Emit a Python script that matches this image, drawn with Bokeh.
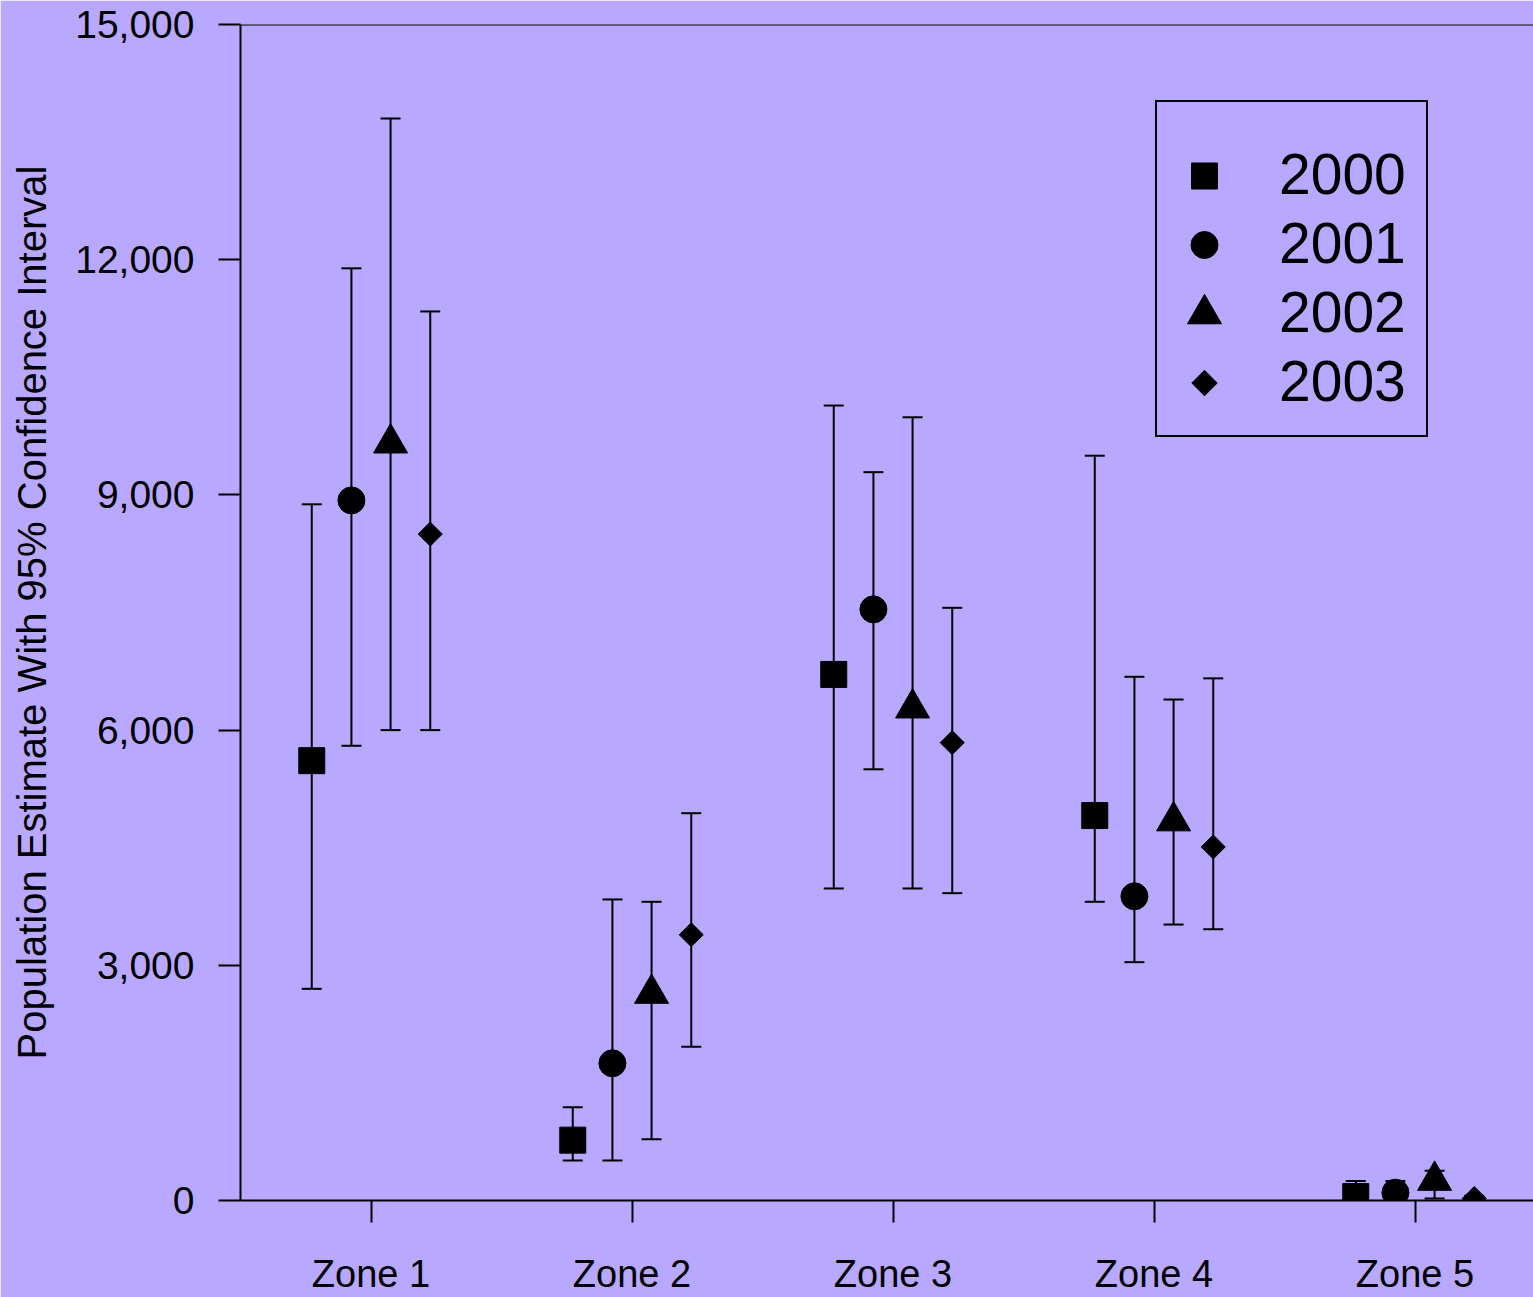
import math
from bokeh.plotting import figure
from bokeh.models import (Range1d, FixedTicker, NumeralTickFormatter, Whisker, TeeHead,
                          ColumnDataSource, Legend, LegendItem, Span)
from bokeh.embed import file_html
from bokeh.resources import INLINE

# ---- data ----
zones = ["Zone 1", "Zone 2", "Zone 3", "Zone 4", "Zone 5"]
years = ["2000", "2001", "2002", "2003"]

est_2000 = [5610, 770, 6710, 4910, 50]
lo_2000 = [2700, 510, 3980, 3810, 0]
hi_2000 = [8880, 1190, 10140, 9500, 250]

est_2001 = [8930, 1750, 7540, 3880, 100]
lo_2001 = [5800, 510, 5500, 3040, 0]
hi_2001 = [11890, 3840, 9290, 6680, 250]

est_2002 = [9660, 2640, 6280, 4840, 255]
lo_2002 = [6000, 780, 3980, 3520, 25]
hi_2002 = [13800, 3810, 9990, 6390, 380]

est_2003 = [8500, 3390, 5840, 4510, 25]
lo_2003 = [6000, 1960, 3920, 3460, 0]
hi_2003 = [11340, 4940, 7560, 6660, 60]

y_ticks = [0, 3000, 6000, 9000, 12000, 15000]

# ---- styling / layout ----
BG = "#B8A8FF"
FONT = "Liberation Sans"
W, H = 1533, 1297
LEFT, TOP, BOTTOM = 240, 24, 97
FRAME_W = W - LEFT
FRAME_H = H - TOP - BOTTOM
zone_pos = [1, 2, 3, 4, 5]
zone_px = 261.0
offsets = [-0.227, -0.075, 0.075, 0.227]
markers = ["square", "circle", "triangle", "square"]
msizes = [26, 27, 34, 17]
key_sizes = [26, 27, 34, 18]
angles = [0, 0, 0, math.pi / 4]

p = figure(width=W, height=H,
           x_range=Range1d(0.5, 0.5 + FRAME_W / zone_px), y_range=Range1d(0, 15000),
           output_backend="svg", toolbar_location=None,
           min_border_left=LEFT, min_border_top=TOP, min_border_bottom=BOTTOM, min_border_right=0,
           background_fill_color=BG, border_fill_color=BG, outline_line_color=None)
# pixel-unit ranges for the hand-drawn legend keys
p.extra_x_ranges = {"px": Range1d(0, FRAME_W)}
p.extra_y_ranges = {"px": Range1d(0, FRAME_H)}

p.grid.visible = False

p.xaxis.ticker = FixedTicker(ticks=zone_pos)
p.xaxis.major_label_overrides = {z: lab for z, lab in zip(zone_pos, zones)}
p.yaxis.ticker = FixedTicker(ticks=y_ticks)
p.yaxis.formatter = NumeralTickFormatter(format="0,0")

for ax in (p.xaxis[0], p.yaxis[0]):
    ax.axis_line_width = 2
    ax.axis_line_color = "black"
    ax.major_tick_line_width = 2
    ax.major_tick_line_color = "black"
    ax.major_tick_in = 0
    ax.major_tick_out = 22
    ax.minor_tick_line_color = None
    ax.major_label_text_font = FONT
    ax.major_label_text_color = "black"

p.xaxis.major_label_text_font_size = "38px"
p.xaxis.major_label_standoff = 30
p.yaxis.major_label_text_font_size = "39px"
p.yaxis.major_label_standoff = 24
p.yaxis.axis_label = "Population Estimate With 95% Confidence Interval"
p.yaxis.axis_label_text_font = FONT
p.yaxis.axis_label_text_font_size = "40px"
p.yaxis.axis_label_text_font_style = "normal"
p.yaxis.axis_label_text_color = "black"
p.yaxis.axis_label_standoff = 18

p.add_layout(Span(location=15000, dimension="width", line_color="black", line_width=2))

series = [(est_2000, lo_2000, hi_2000), (est_2001, lo_2001, hi_2001),
          (est_2002, lo_2002, hi_2002), (est_2003, lo_2003, hi_2003)]

for i, (yr, (est, lo, hi)) in enumerate(zip(years, series)):
    xs = [z + offsets[i] for z in zone_pos]
    src = ColumnDataSource(dict(x=xs, est=est, lo=lo, hi=hi))
    w = Whisker(base="x", lower="lo", upper="hi", source=src, dimension="height",
                line_color="black", line_width=2,
                upper_head=TeeHead(size=20, line_width=2, line_color="black"),
                lower_head=TeeHead(size=20, line_width=2, line_color="black"))
    p.add_layout(w)
    p.scatter("x", "est", source=src, marker=markers[i], size=msizes[i],
              angle=angles[i], fill_color="black", line_color="black")

# legend: box + labels from Bokeh's Legend; keys drawn separately at full size
blank = p.scatter(x=[], y=[], marker="square", size=1, fill_alpha=0, line_alpha=0)
items = [LegendItem(label=yr, renderers=[blank]) for yr in years]

LEG_X, LEG_Y = 915, 763  # legend bottom-left, frame pixels
PAD, GW, GH = 20, 58, 69
legend = Legend(items=items, location=(LEG_X, LEG_Y),
                title=" ", title_text_font_size="12px", title_standoff=3,
                label_text_font=FONT, label_text_font_size="57px", label_text_color="black",
                glyph_width=GW, glyph_height=GH, label_height=GH, spacing=0,
                label_standoff=44, padding=PAD, margin=0,
                border_line_color="black", border_line_width=2, border_line_alpha=1,
                background_fill_alpha=0)
p.add_layout(legend)

n = len(years)
key_x = [LEG_X + PAD + GW / 2] * n
key_y = [LEG_Y + PAD + GH * (n - 1 - k) + GH / 2 for k in range(n)]
for k in range(n):
    p.scatter(x=[key_x[k]], y=[key_y[k]], x_range_name="px", y_range_name="px",
              marker=markers[k], size=key_sizes[k], angle=angles[k],
              fill_color="black", line_color="black")

open("out.html", "w").write(file_html(p, INLINE))
